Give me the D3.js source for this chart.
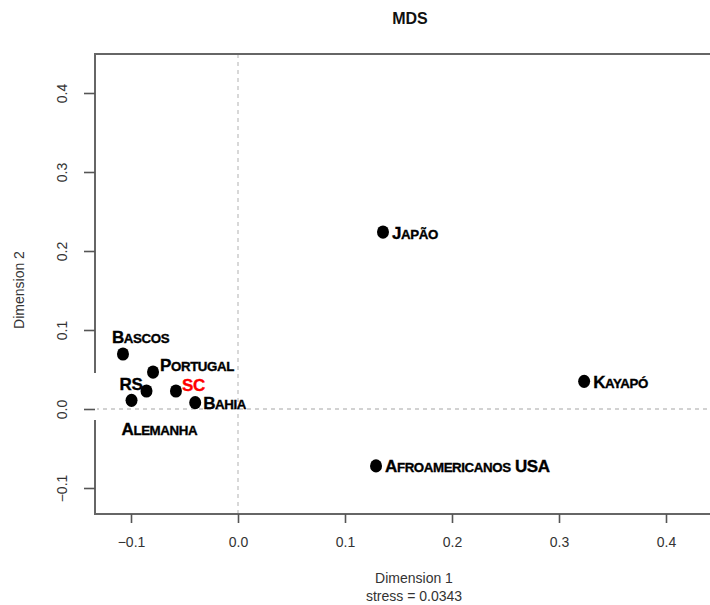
<!DOCTYPE html>
<html>
<head>
<meta charset="utf-8">
<script src="https://cdn.jsdelivr.net/npm/d3@7"></script>
<style>
  body { margin: 0; background: #fff; }
  svg { display: block; }
</style>
</head>
<body>
<script>
// MDS coordinates
const groups = ["Bascos", "Portugal", "RS", "Alemanha", "SC", "Bahia", "Japão", "Kayapó", "Afroamericanos USA"];
const dim1 = [-0.1075, -0.0794, -0.0855, -0.0995, -0.0580, -0.0400, 0.1355, 0.3235, 0.1290];
const dim2 = [0.0696, 0.0468, 0.0228, 0.0110, 0.0228, 0.0080, 0.2240, 0.0350, -0.0720];
const xTicks = [-0.1, 0.0, 0.1, 0.2, 0.3, 0.4];
const yTicks = [-0.1, 0.0, 0.1, 0.2, 0.3, 0.4];
const stress = 0.0343;

// label placement relative to the point (px), kept apart from the data
const labelOffsets = [[-11, -17], [7, -7], [-27, -7], [-10, 29], [6, -6], [8, 0], [9, 1], [9, 1], [9, 0]];

const width = 710, height = 605;
const frame = { left: 95, top: 54, bottom: 514, right: 714 };

const svg = d3.select("body").append("svg")
    .attr("width", width)
    .attr("height", height)
    .style("font-family", "'Liberation Sans', Arial, sans-serif");

const x = d3.scaleLinear().domain([-0.1, 0.4]).range([131, 666]);
const y = d3.scaleLinear().domain([-0.1, 0.4]).range([488, 93]);

// reference lines through zero
svg.append("line")
    .attr("x1", x(0)).attr("x2", x(0))
    .attr("y1", frame.top).attr("y2", frame.bottom)
    .attr("stroke", "#c4c4c4").attr("stroke-width", 1.3)
    .attr("stroke-dasharray", "4,4");
svg.append("line")
    .attr("x1", frame.left).attr("x2", frame.right)
    .attr("y1", y(0)).attr("y2", y(0))
    .attr("stroke", "#c4c4c4").attr("stroke-width", 1.3)
    .attr("stroke-dasharray", "4,4");

// frame
svg.append("rect")
    .attr("x", frame.left).attr("y", frame.top)
    .attr("width", frame.right - frame.left).attr("height", frame.bottom - frame.top)
    .attr("fill", "none").attr("stroke", "#666").attr("stroke-width", 2);
// the picture has a small white patch over the left border near zero
svg.append("rect")
    .attr("x", frame.left - 2).attr("y", 373)
    .attr("width", 4).attr("height", 47)
    .attr("fill", "#fff");

// axes
const fmt = d3.format(".1f");
const xAxis = svg.append("g")
    .attr("transform", `translate(0,${frame.bottom})`)
    .call(d3.axisBottom(x).tickValues(xTicks).tickSize(9).tickPadding(14).tickFormat(fmt));
const yAxis = svg.append("g")
    .attr("transform", `translate(${frame.left},0)`)
    .call(d3.axisLeft(y).tickValues(yTicks).tickSize(11).tickFormat(fmt));

[xAxis, yAxis].forEach(g => {
    g.select(".domain").remove();
    g.selectAll(".tick line").attr("stroke", "#555").attr("stroke-width", 1.6);
    g.selectAll(".tick text")
        .attr("fill", "#333")
        .style("font-size", "14px")
        .style("font-family", "'Liberation Sans', Arial, sans-serif");
});
yAxis.selectAll(".tick text")
    .attr("x", null).attr("dy", null)
    .attr("text-anchor", "middle")
    .attr("transform", "translate(-28,0) rotate(-90)");

// titles
svg.append("text")
    .attr("x", 410).attr("y", 24)
    .attr("text-anchor", "middle")
    .style("font-size", "16px").style("font-weight", "bold")
    .attr("fill", "#111")
    .text("MDS");
svg.append("text")
    .attr("x", 414).attr("y", 583)
    .attr("text-anchor", "middle")
    .style("font-size", "14px").attr("fill", "#333")
    .text("Dimension 1");
svg.append("text")
    .attr("x", 414).attr("y", 601)
    .attr("text-anchor", "middle")
    .style("font-size", "14px").attr("fill", "#333")
    .text("stress = " + stress);
svg.append("text")
    .attr("transform", "translate(24,290) rotate(-90)")
    .attr("text-anchor", "middle")
    .style("font-size", "14px").attr("fill", "#333")
    .text("Dimension 2");

// points
const pts = groups.map((g, i) => ({ name: g, d1: dim1[i], d2: dim2[i], off: labelOffsets[i] }));

svg.append("g").selectAll("ellipse")
    .data(pts)
    .join("ellipse")
    .attr("cx", d => x(d.d1))
    .attr("cy", d => y(d.d2))
    .attr("rx", 6).attr("ry", 6.6)
    .attr("fill", "#000");

// hand-made small caps: a capital stays full size, lower case goes upper at a smaller size
function smallCaps(name) {
    const parts = [];
    name.split(" ").forEach((word, wi) => {
        if (wi > 0) parts.push({ t: " ", big: true });
        for (const ch of word) {
            const big = ch === ch.toUpperCase();
            const last = parts[parts.length - 1];
            if (last && last.big === big && last.t !== " ") last.t += ch.toUpperCase();
            else parts.push({ t: ch.toUpperCase(), big });
        }
    });
    return parts;
}

const labels = svg.append("g").selectAll("text")
    .data(pts)
    .join("text")
    .attr("x", d => x(d.d1) + d.off[0])
    .attr("y", d => y(d.d2) + d.off[1])
    .attr("dy", "0.36em")
    .style("font-size", "17px")
    .style("font-weight", "bold")
    .style("letter-spacing", "-0.4px")
    .attr("fill", d => d.name === "SC" ? "#ff0000" : "#000")
    .attr("stroke", d => d.name === "SC" ? "#ff0000" : "#000")
    .attr("stroke-width", 0.35);

labels.selectAll("tspan")
    .data(d => smallCaps(d.name))
    .join("tspan")
    .style("font-size", p => p.big ? "17px" : "13.3px")
    .text(p => p.t);
</script>
</body>
</html>
